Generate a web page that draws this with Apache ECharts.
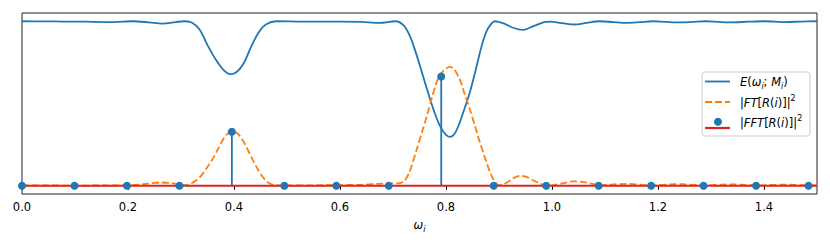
<!DOCTYPE html>
<html><head><meta charset="utf-8">
<script src="https://cdn.jsdelivr.net/npm/echarts@6/dist/echarts.min.js"></script>
<style>html,body{margin:0;padding:0;background:#fff}#c{width:830px;height:246px}</style>
</head><body><div id="c"></div>
<script>
// ---- data ----
const tickValues = [0, 0.2, 0.4, 0.6, 0.8, 1.0, 1.2, 1.4];
const tickLabels = ['0.0', '0.2', '0.4', '0.6', '0.8', '1.0', '1.2', '1.4'];

const eX = [0.00,0.04,0.08,0.12,0.17,0.21,0.24,0.265,0.29,0.305,0.32,0.335,0.35,0.365,0.38,0.394,0.408,0.42,0.433,0.447,0.46,0.48,0.52,0.56,0.60,0.64,0.675,0.705,0.72,0.732,0.742,0.751,0.76,0.77,0.78,0.79,0.80,0.808,0.817,0.826,0.835,0.845,0.855,0.864,0.872,0.88,0.892,0.91,0.925,0.945,0.965,0.985,0.997,1.02,1.043,1.065,1.09,1.115,1.141,1.165,1.19,1.215,1.24,1.265,1.29,1.315,1.34,1.37,1.40,1.44,1.47,1.50];
const eY = [1.000,0.999,0.998,0.997,0.994,1.000,0.993,0.986,0.995,1.000,0.992,0.950,0.855,0.770,0.705,0.678,0.700,0.755,0.850,0.935,0.980,1.000,0.998,0.997,0.998,0.996,0.990,1.000,0.975,0.910,0.820,0.728,0.630,0.526,0.430,0.355,0.310,0.297,0.320,0.386,0.470,0.568,0.690,0.810,0.900,0.960,1.000,0.985,0.962,0.947,0.970,0.995,0.998,0.988,0.980,0.990,1.000,0.995,0.990,0.994,1.000,0.996,0.993,0.996,1.000,0.996,0.993,0.997,1.000,0.995,0.998,1.000];

const ftX = [0.00,0.05,0.10,0.15,0.20,0.23,0.26,0.285,0.30,0.31,0.32,0.335,0.35,0.36,0.37,0.38,0.39,0.397,0.405,0.415,0.425,0.435,0.445,0.455,0.465,0.48,0.50,0.55,0.60,0.64,0.67,0.695,0.71,0.72,0.73,0.745,0.755,0.764,0.773,0.782,0.79,0.80,0.808,0.815,0.826,0.835,0.845,0.855,0.864,0.874,0.883,0.89,0.897,0.905,0.915,0.928,0.94,0.953,0.965,0.978,0.99,1.00,1.02,1.04,1.06,1.08,1.09,1.11,1.14,1.17,1.19,1.22,1.245,1.27,1.29,1.32,1.345,1.37,1.39,1.42,1.445,1.47,1.50];
const ftY = [0.003,0.002,0.001,0.002,0.003,0.010,0.020,0.015,0.005,0.004,0.015,0.050,0.115,0.165,0.225,0.285,0.322,0.330,0.322,0.285,0.225,0.160,0.100,0.050,0.018,0.002,0.003,0.003,0.004,0.006,0.012,0.014,0.015,0.025,0.075,0.223,0.330,0.425,0.530,0.627,0.680,0.712,0.722,0.710,0.647,0.560,0.465,0.360,0.263,0.165,0.083,0.035,0.008,0.005,0.020,0.048,0.061,0.052,0.032,0.012,0.002,0.003,0.015,0.027,0.022,0.008,0.003,0.007,0.012,0.006,0.003,0.008,0.010,0.005,0.003,0.007,0.008,0.004,0.003,0.006,0.007,0.004,0.003];

const fftX = [0, 0.099, 0.198, 0.297, 0.396, 0.495, 0.593, 0.692, 0.791, 0.890, 0.989, 1.088, 1.187, 1.286, 1.385, 1.484];
const fftY = [0, 0, 0, 0, 0.328, 0, 0, 0, 0.664, 0, 0, 0, 0, 0, 0, 0];

const baseX = [0, 1.5];
const baseY = [0, 0];

const names = ['E', 'FT', 'FFT'];

// ---- chart ----
const C_BLUE = '#1f77b4', C_ORANGE = '#ff7f0e', C_RED = '#d62728';
const FONT = 'DejaVu Sans';
const pair = (xs, ys) => xs.map((x, i) => [x, ys[i]]);

const richStyles = {
  n: {fontFamily: FONT, fontSize: 11.5, color: '#000', lineHeight: 16},
  e: {fontFamily: FONT, fontSize: 11.5, color: '#000', lineHeight: 16, fontStyle: 'italic'},
  s: {fontFamily: FONT, fontSize: 8, color: '#000', lineHeight: 9, fontStyle: 'italic', verticalAlign: 'bottom'},
  p: {fontFamily: FONT, fontSize: 8, color: '#000', lineHeight: 9, verticalAlign: 'top'}
};

const chart = echarts.init(document.getElementById('c'), null, {renderer: 'svg'});
const option = {
  animation: false,
  backgroundColor: '#fff',
  grid: {left: 22, right: 13, top: 13, bottom: 52, show: true, borderColor: '#222', borderWidth: 1, backgroundColor: 'transparent'},
  xAxis: {
    type: 'value', min: 0, max: 1.5, interval: 0.1,
    axisLine: {show: false},
    splitLine: {show: false},
    axisTick: {show: true, length: 4, lineStyle: {color: '#000', width: 1}, customValues: tickValues},
    axisLabel: {
      customValues: tickValues,
      fontFamily: FONT, fontSize: 11.5, color: '#000', margin: 7,
      formatter: v => { const i = tickValues.findIndex(t => Math.abs(t - v) < 1e-6); return i >= 0 ? tickLabels[i] : ''; }
    },
    name: '{e|ω}{s|i}', nameLocation: 'middle', nameGap: 23,
    nameTextStyle: {rich: richStyles}
  },
  yAxis: {
    type: 'value', min: -0.05, max: 1.05,
    axisLine: {show: false}, axisTick: {show: false}, axisLabel: {show: false}, splitLine: {show: false}
  },
  series: [
    {name: names[0], type: 'line', data: pair(eX, eY), symbol: 'none', smooth: 0.3,
     lineStyle: {color: C_BLUE, width: 1.8}, z: 2},
    {name: names[1], type: 'line', data: pair(ftX, ftY), symbol: 'none', smooth: 0.3,
     lineStyle: {color: C_ORANGE, width: 1.8, type: [7, 3]}, z: 3},
    {name: 'stems', type: 'custom', data: pair(fftX, fftY), z: 4,
     renderItem: (params, api) => {
       const p0 = api.coord([api.value(0), 0]);
       const p1 = api.coord([api.value(0), api.value(1)]);
       return {type: 'line', shape: {x1: p0[0], y1: p0[1], x2: p1[0], y2: p1[1]},
               style: {stroke: C_BLUE, lineWidth: 1.8}};
     }},
    {name: 'baseline', type: 'line', data: pair(baseX, baseY), symbol: 'none',
     lineStyle: {color: C_RED, width: 2.2}, z: 5},
    {name: names[2], type: 'scatter', data: pair(fftX, fftY), symbol: 'circle', symbolSize: 8,
     itemStyle: {color: C_BLUE, opacity: 1}, z: 6}
  ],
  graphic: [
    {type: 'rect', shape: {x: 702, y: 72, width: 108, height: 64, r: 3},
     style: {fill: 'rgba(255,255,255,0.8)', stroke: '#cccccc', lineWidth: 1}, z: 100},
    {type: 'line', shape: {x1: 705, y1: 81.5, x2: 730, y2: 81.5}, style: {stroke: C_BLUE, lineWidth: 1.8}, z: 101},
    {type: 'line', shape: {x1: 705, y1: 102, x2: 730, y2: 102}, style: {stroke: C_ORANGE, lineWidth: 1.8, lineDash: [7, 3]}, z: 101},
    {type: 'line', shape: {x1: 705, y1: 128, x2: 730, y2: 128}, style: {stroke: C_RED, lineWidth: 2.2}, z: 101},
    {type: 'circle', shape: {cx: 718, cy: 121.7, r: 4}, style: {fill: C_BLUE}, z: 102},
    {type: 'text', x: 740, y: 82, z: 101,
     style: {text: '{e|E}{n|(}{e|ω}{s|i}{n|; }{e|M}{s|i}{n|)}', rich: richStyles, verticalAlign: 'middle', align: 'left'}},
    {type: 'text', x: 740, y: 102.5, z: 101,
     style: {text: '{n||}{e|FT}{n|[}{e|R}{n|(}{e|i}{n|)]|}{p|2}', rich: richStyles, verticalAlign: 'middle', align: 'left'}},
    {type: 'text', x: 740, y: 122.5, z: 101,
     style: {text: '{n||}{e|FFT}{n|[}{e|R}{n|(}{e|i}{n|)]|}{p|2}', rich: richStyles, verticalAlign: 'middle', align: 'left'}}
  ]
};
chart.setOption(option);
</script>
</body></html>
